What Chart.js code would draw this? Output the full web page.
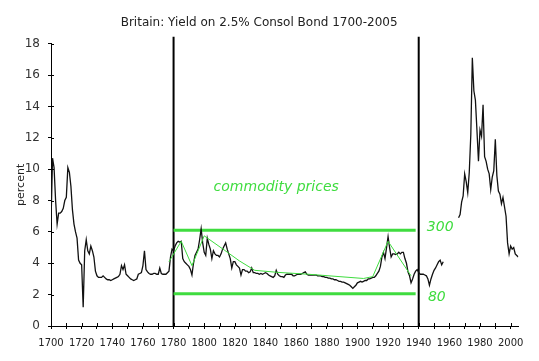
<!DOCTYPE html>
<html>
<head>
<meta charset="utf-8">
<script src="https://cdn.jsdelivr.net/npm/chart.js@4.4.1/dist/chart.umd.min.js"></script>
<style>
  html, body { margin: 0; padding: 0; background: #fff; }
  #wrap { width: 539px; height: 361px; }
</style>
</head>
<body>
<div id="wrap"><canvas id="chart" width="539" height="361"></canvas></div>
<script>
// --- data ---
const firstYear = 1700;
// yield in percent, one value per year from 1700 to 2005 (null = no data)
const yieldValues = [
  6.6, 10.7, 10.1, 8.0, 6.5, 7.2, 7.2, 7.3, 7.5, 8.0,        // 1700s
  8.2, 10.1, 9.8, 8.9, 7.4, 6.5, 6.0, 5.6, 4.2, 4.0,         // 1710s
  3.9, 1.2, 4.8, 5.5, 4.8, 4.6, 5.1, 4.8, 4.4, 3.5,          // 1720s
  3.2, 3.1, 3.1, 3.1, 3.2, 3.1, 3.0, 2.95, 2.95, 2.9,        // 1730s
  2.95, 3.0, 3.05, 3.1, 3.15, 3.3, 3.85, 3.6, 3.9, 3.3,      // 1740s
  3.2, 3.1, 3.0, 2.95, 2.9, 2.95, 3.0, 3.3, 3.35, 3.4,       // 1750s
  3.85, 4.8, 3.6, 3.45, 3.35, 3.3, 3.3, 3.35, 3.35, 3.3,     // 1760s
  3.3, 3.7, 3.35, 3.3, 3.3, 3.3, 3.4, 3.5, 4.4, 4.9,         // 1770s
  4.8, 5.1, 5.3, 5.4, 5.35, 5.4, 4.3, 4.1, 4.0, 3.9,         // 1780s
  3.8, 3.6, 3.25, 4.0, 4.5, 4.7, 4.9, 5.5, 6.2, 5.3,         // 1790s
  4.7, 4.5, 5.6, 5.2, 4.9, 4.3, 4.8, 4.6, 4.5, 4.5,          // 1800s
  4.4, 4.6, 4.9, 5.1, 5.3, 4.9, 4.6, 4.3, 3.7, 4.1,          // 1810s
  4.1, 3.9, 3.8, 3.7, 3.25, 3.6, 3.6, 3.5, 3.5, 3.4,         // 1820s
  3.45, 3.7, 3.4, 3.4, 3.35, 3.35, 3.3, 3.35, 3.3, 3.35,     // 1830s
  3.4, 3.35, 3.25, 3.2, 3.15, 3.1, 3.2, 3.55, 3.3, 3.2,      // 1840s
  3.15, 3.15, 3.1, 3.25, 3.3, 3.3, 3.3, 3.3, 3.2, 3.2,       // 1850s
  3.25, 3.3, 3.3, 3.3, 3.35, 3.4, 3.45, 3.3, 3.25, 3.25,     // 1860s
  3.25, 3.25, 3.25, 3.25, 3.2, 3.2, 3.2, 3.15, 3.15, 3.1,    // 1870s
  3.1, 3.05, 3.05, 3.0, 3.0, 2.95, 2.95, 2.9, 2.85, 2.85,    // 1880s
  2.8, 2.8, 2.75, 2.7, 2.65, 2.6, 2.5, 2.4, 2.5, 2.6,        // 1890s
  2.75, 2.8, 2.85, 2.8, 2.85, 2.9, 2.9, 3.0, 3.0, 3.05,      // 1900s
  3.1, 3.1, 3.2, 3.35, 3.5, 3.8, 4.4, 4.7, 4.3, 5.0,         // 1910s
  5.7, 5.0, 4.4, 4.6, 4.6, 4.55, 4.6, 4.7, 4.6, 4.7,         // 1920s
  4.7, 4.3, 4.0, 3.45, 3.2, 2.75, 3.0, 3.3, 3.5, 3.6,        // 1930s
  3.4, 3.3, 3.3, 3.3, 3.25, 3.2, 3.0, 2.6, 3.0, 3.3,         // 1940s
  3.55, 3.7, 3.9, 4.1, 4.2, 3.9, 4.1, null, null, null,      // 1950s
  null, null, null, null, null, null, 6.9, 7.1, 7.9, 8.3,    // 1960s
  9.7, 9.2, 8.5, 9.8, 12.2, 17.1, 15.0, 14.4, 12.5, 10.5,    // 1970s
  12.5, 12.1, 14.1, 10.8, 10.5, 10.0, 9.7, 8.7, 9.5, 9.9,    // 1980s
  11.9, 9.6, 8.6, 8.4, 7.8, 8.2, 7.6, 7.0, 5.3, 4.6,         // 1990s
  5.1, 4.9, 5.0, 4.6, 4.5, 4.4                               // 2000s
];

// commodity price index, drawn on the same scale (green)
const commodityYears  = [1777, 1785, 1792, 1800, 1813, 1823, 1833, 1848, 1868, 1904, 1910, 1920, 1935];
const commodityValues = [4.1, 5.4, 3.85, 5.75, 4.85, 4.15, 3.55, 3.42, 3.3, 3.03, 3.15, 5.4, 3.2];

// band of the commodity index: 300 at the top, 80 at the bottom
const bandYears = [1780, 1938];
const bandLevels = [6.1, 2.05];
const bandLabels = ['300', '80'];

// vertical marker lines
const markerYears = [1780, 1940];
const markerTop = 18.45;

const titleText = 'Britain: Yield on 2.5% Consol Bond 1700-2005';
const noteText = 'commodity prices';

const GREEN = '#3fdc3f';
const FONT = 'DejaVu Sans';

// --- datasets ---
const yieldPoints = yieldValues.map((v, i) => ({ x: firstYear + i, y: v }));
const commodityPoints = commodityYears.map((yr, i) => ({ x: yr, y: commodityValues[i] }));

const datasets = [
  {
    label: 'commodity',
    data: commodityPoints,
    borderColor: GREEN,
    borderWidth: 1,
    pointRadius: 0,
    order: 0
  },
  {
    label: 'yield',
    data: yieldPoints,
    borderColor: '#111',
    borderWidth: 1.3,
    pointRadius: 0,
    spanGaps: false,
    order: 1
  }
];

bandLevels.forEach((lvl, i) => {
  datasets.push({
    label: 'band' + i,
    data: bandYears.map(yr => ({ x: yr, y: lvl })),
    borderColor: GREEN,
    borderWidth: 3,
    pointRadius: 0,
    order: 2
  });
});

markerYears.forEach((yr, i) => {
  datasets.push({
    label: 'marker' + i,
    data: [{ x: yr, y: 0 }, { x: yr, y: markerTop }],
    borderColor: '#000',
    borderWidth: 2,
    pointRadius: 0,
    clip: false,
    order: 3
  });
});

// small tick marks pointing into the plot (the axes have crossing ticks)
const innerTicks = {
  id: 'innerTicks',
  afterDraw(chart) {
    const { ctx, scales: { x, y } } = chart;
    ctx.save();
    ctx.strokeStyle = '#000';
    ctx.lineWidth = 1;
    ctx.beginPath();
    y.ticks.forEach(t => {
      const py = Math.round(y.getPixelForValue(t.value)) + 0.5;
      ctx.moveTo(x.left, py);
      ctx.lineTo(x.left + 3, py);
    });
    x.ticks.forEach(t => {
      const px = Math.round(x.getPixelForValue(t.value)) + 0.5;
      ctx.moveTo(px, y.bottom);
      ctx.lineTo(px, y.bottom - 3);
    });
    ctx.stroke();
    ctx.restore();
  }
};

// green annotations
const notes = {
  id: 'notes',
  afterDatasetsDraw(chart) {
    const { ctx, scales: { x, y } } = chart;
    ctx.save();
    ctx.fillStyle = GREEN;
    ctx.font = 'italic 14px "' + FONT + '"';
    ctx.textBaseline = 'middle';
    ctx.textAlign = 'center';
    ctx.fillText(noteText, x.getPixelForValue(1847), y.getPixelForValue(8.87));
    ctx.textAlign = 'left';
    ctx.fillText(bandLabels[0], x.getPixelForValue(1945.3), y.getPixelForValue(6.3));
    ctx.fillText(bandLabels[1], x.getPixelForValue(1946), y.getPixelForValue(1.83));
    ctx.restore();
  }
};

new Chart(document.getElementById('chart'), {
  type: 'line',
  data: { datasets },
  plugins: [innerTicks, notes],
  options: {
    responsive: false,
    animation: false,
    layout: { padding: { left: 0, right: 20.7, top: 0, bottom: 0 } },
    plugins: {
      legend: { display: false },
      tooltip: { enabled: false },
      title: {
        display: true,
        text: titleText,
        color: '#222',
        font: { family: FONT, size: 12, weight: 'normal' },
        padding: { top: 15.5, bottom: 13.8 }
      }
    },
    scales: {
      x: {
        type: 'linear',
        min: 1700,
        max: 2005,
        border: { display: true, color: '#000', width: 1 },
        grid: { drawOnChartArea: false, drawTicks: true, tickLength: 3, color: '#000' },
        ticks: {
          stepSize: 10,
          includeBounds: false,
          autoSkip: false,
          maxRotation: 0,
          color: '#222',
          padding: 8,
          font: { family: FONT, size: 10 },
          callback: v => (v % 20 === 0 ? String(v) : '')
        },
        afterFit(scale) { scale.height = 35; }
      },
      y: {
        min: 0,
        max: 18,
        border: { display: true, color: '#000', width: 1 },
        grid: { drawOnChartArea: false, drawTicks: true, tickLength: 3, color: '#000' },
        ticks: {
          stepSize: 2,
          color: '#333',
          padding: 8,
          font: { family: FONT, size: 12 }
        },
        title: {
          display: true,
          text: 'percent',
          color: '#222',
          font: { family: FONT, size: 11 },
          padding: { top: 15, bottom: 0 }
        },
        afterFit(scale) { scale.width = 51; }
      }
    }
  }
});
</script>
</body>
</html>
